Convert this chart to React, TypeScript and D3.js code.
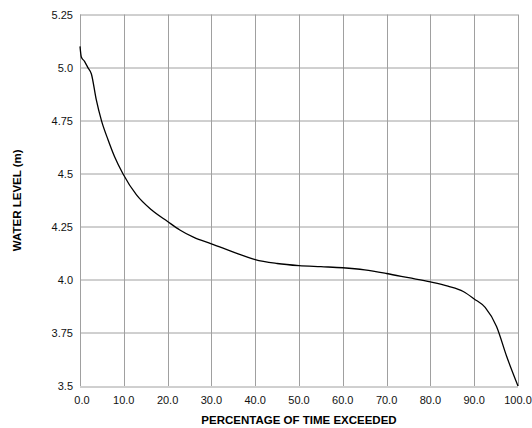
import React from 'react';
import * as d3 from 'd3';

// percentage of time exceeded vs. water level (m)
const PERCENT = [0, 0.3, 1, 1.8, 2.6, 3.7, 4.9, 6.4, 7.9, 9.8, 12.9, 16.3, 20, 22.8, 26, 30, 35.8, 40, 45, 50, 55, 60, 65, 70, 75, 80, 84, 87.5, 90, 92.5, 95.1, 97.4, 100];
const LEVEL = [5.1, 5.05, 5.03, 5.0, 4.97, 4.85, 4.75, 4.66, 4.58, 4.5, 4.4, 4.33, 4.275, 4.235, 4.2, 4.17, 4.125, 4.095, 4.077, 4.067, 4.062, 4.057, 4.047, 4.03, 4.01, 3.99, 3.97, 3.945, 3.91, 3.87, 3.78, 3.64, 3.5];

const X_TICKS = [0, 10, 20, 30, 40, 50, 60, 70, 80, 90, 100];
const Y_TICKS = [3.5, 3.75, 4.0, 4.25, 4.5, 4.75, 5.0, 5.25];
const Y_LABELS = ['3.5', '3.75', '4.0', '4.25', '4.5', '4.75', '5.0', '5.25'];

const WIDTH = 532;
const HEIGHT = 428;
const margin = { top: 14.5, right: 14, bottom: 42, left: 80 };

export default function App() {
  const innerW = WIDTH - margin.left - margin.right;
  const innerH = HEIGHT - margin.top - margin.bottom;

  const x = d3.scaleLinear().domain([0, 100]).range([0, innerW]);
  const y = d3.scaleLinear().domain([3.5, 5.25]).range([innerH, 0]);

  const points: [number, number][] = PERCENT.map((p, i) => [p, LEVEL[i]]);
  const line = d3
    .line<[number, number]>()
    .x((d) => x(d[0]))
    .y((d) => y(d[1]))
    .curve(d3.curveMonotoneX);

  const font = 'Liberation Sans, Arial, sans-serif';

  return (
    <svg
      width={WIDTH}
      height={HEIGHT}
      style={{ position: 'absolute', left: 0, top: 0, background: '#fff' }}
    >
      <g transform={`translate(${margin.left},${margin.top})`}>
        {X_TICKS.map((t) => (
          <line
            key={'gx' + t}
            x1={Math.round(x(t)) + 0.5}
            x2={Math.round(x(t)) + 0.5}
            y1={0}
            y2={innerH}
            stroke="#a0a0a0"
            strokeWidth={1}
          />
        ))}
        {Y_TICKS.map((t) => (
          <line
            key={'gy' + t}
            x1={0}
            x2={innerW}
            y1={Math.round(y(t)) + 0.5}
            y2={Math.round(y(t)) + 0.5}
            stroke="#a0a0a0"
            strokeWidth={1}
          />
        ))}
        <path d={line(points) || ''} fill="none" stroke="#000" strokeWidth={1.3} />

        {X_TICKS.map((t) => (
          <text
            key={'tx' + t}
            x={x(t) + (t === 0 ? 2 : 0)}
            y={innerH + 18}
            textAnchor="middle"
            fontFamily={font}
            fontSize={11}
            fill="#111"
          >
            {t.toFixed(1)}
          </text>
        ))}
        {Y_TICKS.map((t, i) => (
          <text
            key={'ty' + t}
            x={-7}
            y={y(t) + 4}
            textAnchor="end"
            fontFamily={font}
            fontSize={11}
            fill="#111"
          >
            {Y_LABELS[i]}
          </text>
        ))}
        <text
          x={innerW / 2}
          y={innerH + 38}
          textAnchor="middle"
          fontFamily={font}
          fontSize={11.5}
          fontWeight="bold"
        >
          PERCENTAGE OF TIME EXCEEDED
        </text>
        <text
          transform={`translate(${-59},${innerH / 2}) rotate(-90)`}
          textAnchor="middle"
          fontFamily={font}
          fontSize={11.5}
          fontWeight="bold"
        >
          WATER LEVEL (m)
        </text>
      </g>
    </svg>
  );
}
